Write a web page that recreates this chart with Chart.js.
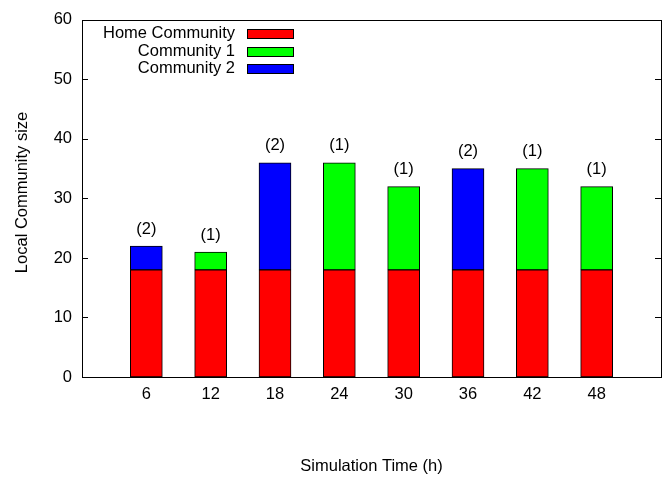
<!DOCTYPE html>
<html>
<head>
<meta charset="utf-8">
<script src="https://cdn.jsdelivr.net/npm/chart.js@4"></script>
<style>
  html, body { margin: 0; padding: 0; background: #fff; }
</style>
</head>
<body>
<canvas id="c" width="669" height="481"></canvas>
<script>
// Simulation time (hours) at which the local community was sampled
const hours = [6, 12, 18, 24, 30, 36, 42, 48];
// Members contributed by each community (stacked)
const homeCommunity = [18, 18, 18, 18, 18, 18, 18, 18];
const community1    = [0, 3, 0, 18, 14, 0, 17, 14];
const community2    = [4, 0, 18, 0, 0, 17, 0, 0];
// Number of communities noted above each stack
const countLabels = ['(2)', '(1)', '(2)', '(1)', '(1)', '(2)', '(1)', '(1)'];
const yTickValues = [0, 10, 20, 30, 40, 50, 60];
const yTitle = 'Local Community size';

const FAMILY = '"Liberation Sans", Arial, Helvetica, sans-serif';
const SIZE = 16.5;
const FONT = SIZE + 'px ' + FAMILY;

const toPoints = arr => arr.map((v, i) => ({ x: hours[i], y: v }));

// Frame, inward tick marks, y title, per-bar notes and the key inside the plot
const decorations = {
  id: 'decorations',
  afterDraw(chart) {
    const ctx = chart.ctx;
    const { left, right, top, bottom } = chart.chartArea;
    const xs = chart.scales.x, ys = chart.scales.y;
    ctx.save();
    ctx.strokeStyle = '#000';
    ctx.lineWidth = 1;

    // inward ticks on left and right
    ctx.beginPath();
    yTickValues.forEach(v => {
      const y = Math.round(ys.getPixelForValue(v)) + 0.5;
      ctx.moveTo(left, y); ctx.lineTo(left + 6, y);
      ctx.moveTo(right, y); ctx.lineTo(right - 6, y);
    });
    ctx.stroke();

    // frame
    ctx.strokeRect(Math.round(left) + 0.5, Math.round(top) + 0.5,
                   Math.round(right - left), Math.round(bottom - top));

    ctx.fillStyle = '#000';
    ctx.font = FONT;
    ctx.textAlign = 'center';
    ctx.textBaseline = 'middle';

    // rotated y-axis title
    ctx.save();
    ctx.translate(22, (top + bottom) / 2 - 6);
    ctx.rotate(-Math.PI / 2);
    ctx.fillText(yTitle, 0, 0);
    ctx.restore();

    // notes above each stack
    hours.forEach((h, i) => {
      const total = homeCommunity[i] + community1[i] + community2[i];
      ctx.fillText(countLabels[i], xs.getPixelForValue(h), ys.getPixelForValue(total) - 17);
    });

    // key
    ctx.textAlign = 'right';
    chart.data.datasets.forEach((ds, i) => {
      const y = top + 14 + i * 17.5;
      ctx.fillStyle = '#000';
      ctx.fillText(ds.label, left + 153, y);
      ctx.fillStyle = ds.backgroundColor;
      ctx.fillRect(left + 165, Math.round(y - 4.5), 46, 9);
      ctx.strokeRect(left + 165.5, Math.round(y - 4.5) + 0.5, 46, 9);
    });
    ctx.restore();
  }
};

const barCommon = { borderColor: '#000', borderWidth: 1, borderSkipped: false, barThickness: 32 };

new Chart(document.getElementById('c'), {
  type: 'bar',
  data: {
    datasets: [
      { label: 'Home Community', data: toPoints(homeCommunity), backgroundColor: '#ff0000', ...barCommon },
      { label: 'Community 1', data: toPoints(community1), backgroundColor: '#00ff00', ...barCommon },
      { label: 'Community 2', data: toPoints(community2), backgroundColor: '#0000ff', ...barCommon }
    ]
  },
  options: {
    responsive: false,
    animation: false,
    layout: { padding: { top: 12, right: 8, left: 0, bottom: 0 } },
    plugins: { legend: { display: false }, tooltip: { enabled: false } },
    scales: {
      x: {
        type: 'linear',
        stacked: true,
        offset: false,
        min: 0,
        max: 54,
        afterBuildTicks(scale) { scale.ticks = hours.map(v => ({ value: v })); },
        afterFit(scale) { scale.height = 104; },
        grid: { display: false, drawTicks: false, offset: false },
        border: { display: false },
        ticks: { color: '#000', font: { family: FAMILY, size: SIZE }, padding: 8, autoSkip: false, maxRotation: 0 },
        title: { display: true, text: 'Simulation Time (h)', color: '#000',
                 font: { family: FAMILY, size: SIZE }, padding: { top: 0, bottom: 5 } }
      },
      y: {
        stacked: true,
        min: 0,
        max: 60,
        afterBuildTicks(scale) { scale.ticks = yTickValues.map(v => ({ value: v })); },
        afterFit(scale) { scale.width = 82; },
        grid: { display: false, drawTicks: false },
        border: { display: false },
        ticks: { color: '#000', font: { family: FAMILY, size: SIZE }, padding: 10 },
        title: { display: false }
      }
    }
  },
  plugins: [decorations]
});
</script>
</body>
</html>
